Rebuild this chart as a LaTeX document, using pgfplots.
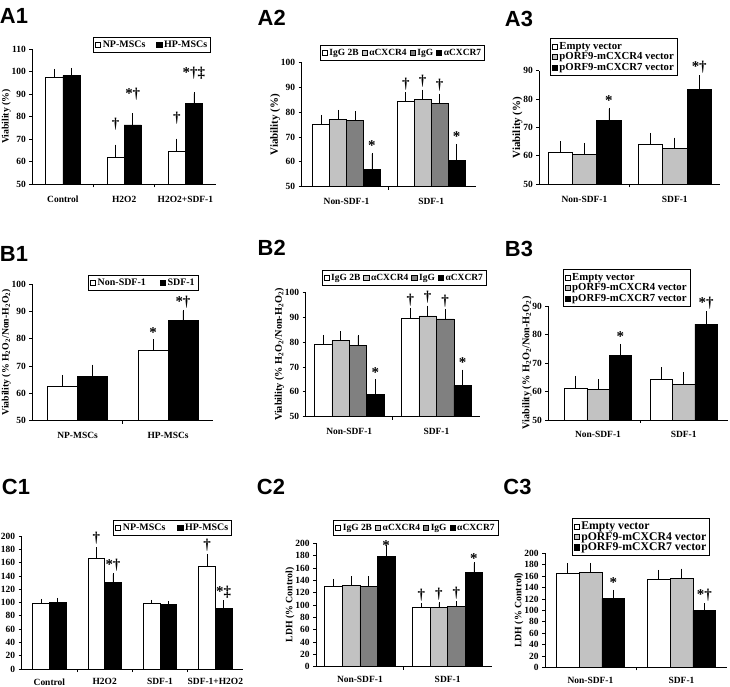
\documentclass[border=0pt]{standalone}
\usepackage{pgfplots}
\pgfplotsset{compat=1.18}
\usepackage{fontspec}
\setmainfont{Liberation Serif}
\newfontfamily\panelfont{Liberation Sans}

\definecolor{lgray}{HTML}{C2C2C2}
\definecolor{dgray}{HTML}{808080}

\newcommand{\txt}{\fontsize{9.5}{10}\selectfont\bfseries}
\newcommand{\labtxt}{\fontsize{9.8}{10}\selectfont\bfseries}
\newcommand{\bigtxt}{\fontsize{11}{11}\selectfont\bfseries}
\newcommand{\legtxt}{\fontsize{10}{11}\selectfont\bfseries}
\newcommand{\vlegtxt}{\fontsize{10.8}{11}\selectfont\bfseries}

\pgfplotsset{
  panel/.style={
    scale only axis, clip=false, anchor=south west,
    axis x line*=bottom, axis y line*=left,
    axis line style={-, line width=0.8bp},
    tick align=outside,
    major tick length=3bp, minor tick length=3bp,
    major x tick style={draw=none},
    minor x tick style={line width=0.8bp, black},
    ytick style={line width=0.8bp, black},
    /pgf/number format/assume math mode=true,
    tick label style={font=\txt},
    xticklabel style={yshift=-5bp},
    label style={font=\labtxt},
    ylabel shift=-6bp,
    legend style={draw=black, line width=0.6bp, font=\txt, inner sep=1.5bp,
      anchor=north west, cells={anchor=west}, row sep=-2bp},
    legend image code/.code={\draw[##1, draw=black, line width=0.5bp] (0bp,-2.6bp) rectangle (5.2bp,2.6bp);},
    every axis plot/.append style={ybar, bar shift=0pt, draw=black, line width=0.6bp,
      /pgfplots/error bars/y dir=plus, /pgfplots/error bars/y explicit,
      /pgfplots/error bars/error bar style={line width=0.7bp, black},
      /pgfplots/error bars/error mark options={line width=0.7bp, black, mark size=1.2bp}},
  },
  hleg/.style={legend columns=-1},
  vleg/.style={legend style={font=\vlegtxt}},
  lowlab/.style={xticklabel style={yshift=2bp}},
}
\tikzset{ann/.style={anchor=south, font=\fontsize{15}{15}\selectfont\bfseries, inner sep=0pt, yshift=3bp},
  plabel/.style={font=\panelfont\bfseries\fontsize{22}{22}\selectfont, anchor=center, inner sep=0pt}}

\begin{document}
\begin{tikzpicture}
\useasboundingbox (0,0) rectangle (730bp,687bp);

% ---------------- A1 ----------------
\node[plabel] at (14bp,671bp) {A1};
\begin{axis}[panel, at={(32.3bp,502.7bp)}, width=183.7bp, height=135.3bp,
  xmin=0.5, xmax=3.5, ymin=50, ymax=110, ytick={50,60,...,110},
  xtick={1,2,3}, xticklabels={Control,H2O2,H2O2+SDF-1}, minor xtick={1.5,2.5},
  ylabel={Viability (\%)}, hleg, legend style={at={(0.332,1.091)}, font=\legtxt,
  /tikz/every even column/.append style={column sep=9bp}}]
\addplot[fill=white, bar width=0.28] coordinates {(0.86,97.3) +- (0,3.4) (1.86,61.8) +- (0,5.3) (2.86,64.5) +- (0,5.2)};
\addplot[fill=black, bar width=0.28] coordinates {(1.14,98.2) +- (0,2.9) (2.14,76.3) +- (0,4.7) (3.14,85.8) +- (0,4.4)};
\legend{NP-MSCs,HP-MSCs}
\node[ann, yshift=12bp] at (axis cs:1.86,67.1) {†};
\node[ann, yshift=11bp] at (axis cs:2.14,81.0) {*†};
\node[ann, yshift=12bp] at (axis cs:2.86,69.7) {†};
\node[ann, yshift=11bp] at (axis cs:3.14,90.2) {*†‡};
\end{axis}

% ---------------- A2 ----------------
\node[plabel] at (271.7bp,669bp) {A2};
\begin{axis}[panel, at={(301.7bp,500.3bp)}, width=174.3bp, height=124bp,
  xmin=0.47, xmax=2.53, ymin=50, ymax=100, ytick={50,60,...,100},
  xtick={1,2}, xticklabels={Non-SDF-1,SDF-1}, minor xtick={1.5},
  ylabel={Viability (\%)}, ylabel style={font=\bigtxt},
  hleg, legend style={at={(0.105,1.143)},
  /tikz/every even column/.append style={column sep=1bp}}]
\addplot[fill=white, bar width=0.2] coordinates {(0.7,75.1) +- (0,3.4) (1.7,84.5) +- (0,3.1)};
\addplot[fill=lgray, bar width=0.2] coordinates {(0.9,77.2) +- (0,3.3) (1.9,85.2) +- (0,3.5)};
\addplot[fill=dgray, bar width=0.2] coordinates {(1.1,76.6) +- (0,3.4) (2.1,83.7) +- (0,3.3)};
\addplot[fill=black, bar width=0.2] coordinates {(1.3,57.0) +- (0,6.2) (2.3,60.5) +- (0,6.3)};
\legend{IgG 2B,αCXCR4,IgG,αCXCR7}
\node[ann] at (axis cs:1.3,63.2) {*};
\node[ann] at (axis cs:2.3,66.8) {*};
\node[ann] at (axis cs:1.7,87.6) {†};
\node[ann] at (axis cs:1.9,88.7) {†};
\node[ann] at (axis cs:2.1,87.0) {†};
\end{axis}

% ---------------- A3 ----------------
\node[plabel] at (519bp,668.5bp) {A3};
\begin{axis}[panel, at={(539.3bp,502.7bp)}, width=180.7bp, height=113.6bp,
  xmin=0.5, xmax=2.5, ymin=50, ymax=90, ytick={50,60,...,90},
  xtick={1,2}, xticklabels={Non-SDF-1,SDF-1}, minor xtick={1.5},
  ylabel={Viability (\%)}, ylabel style={font=\bigtxt},
  vleg, legend style={at={(0.059,1.285)}}]
\addplot[fill=white, bar width=0.27] coordinates {(0.73,61.1) +- (0,3.7) (1.73,64.2) +- (0,3.5)};
\addplot[fill=lgray, bar width=0.27] coordinates {(1,60.6) +- (0,3.6) (2,62.6) +- (0,3.4)};
\addplot[fill=black, bar width=0.27] coordinates {(1.27,72.4) +- (0,4.1) (2.27,83.4) +- (0,4.5)};
\legend{Empty vector,pORF9-mCXCR4 vector,pORF9-mCXCR7 vector}
\node[ann] at (axis cs:1.27,76.5) {*};
\node[ann] at (axis cs:2.27,87.9) {*†};
\end{axis}

% ---------------- B1 ----------------
\node[plabel] at (14bp,433bp) {B1};
\begin{axis}[panel, at={(32.3bp,266.3bp)}, width=181bp, height=136.7bp,
  xmin=0.5, xmax=2.5, ymin=50, ymax=100, ytick={50,60,...,100},
  xtick={1,2}, xticklabels={NP-MSCs,HP-MSCs}, minor xtick={1.5},
  ylabel={Viability (\% H\textsubscript{2}O\textsubscript{2}/Non-H\textsubscript{2}O\textsubscript{2})},
  hleg, legend style={at={(0.309,1.066)}, font=\legtxt,
  /tikz/every even column/.append style={column sep=12bp}}]
\addplot[fill=white, bar width=0.33] coordinates {(0.835,62.4) +- (0,3.9) (1.835,75.7) +- (0,3.6)};
\addplot[fill=black, bar width=0.33] coordinates {(1.165,66.3) +- (0,3.8) (2.165,86.7) +- (0,3.4)};
\legend{Non-SDF-1,SDF-1}
\node[ann] at (axis cs:1.835,79.3) {*};
\node[ann] at (axis cs:2.165,90.1) {*†};
\end{axis}

% ---------------- B2 ----------------
\node[plabel] at (271.7bp,438.7bp) {B2};
\begin{axis}[panel, at={(305.7bp,270.3bp)}, width=174.3bp, height=124.4bp,
  xmin=0.5, xmax=2.5, ymin=50, ymax=100, ytick={50,60,...,100},
  xtick={1,2}, xticklabels={Non-SDF-1,SDF-1}, minor xtick={1.5},
  ylabel={Viability (\% H\textsubscript{2}O\textsubscript{2}/Non-H\textsubscript{2}O\textsubscript{2})},
  ylabel style={font=\fontsize{10.3}{10}\selectfont\bfseries},
  hleg, legend style={at={(0.092,1.179)},
  /tikz/every even column/.append style={column sep=1bp}}]
\addplot[fill=white, bar width=0.2] coordinates {(0.7,79.2) +- (0,3.2) (1.7,89.7) +- (0,3.6)};
\addplot[fill=lgray, bar width=0.2] coordinates {(0.9,80.6) +- (0,3.3) (1.9,90.5) +- (0,3.7)};
\addplot[fill=dgray, bar width=0.2] coordinates {(1.1,78.7) +- (0,3.7) (2.1,89.3) +- (0,3.6)};
\addplot[fill=black, bar width=0.2] coordinates {(1.3,59.1) +- (0,5.4) (2.3,62.6) +- (0,5.8)};
\legend{IgG 2B,αCXCR4,IgG,αCXCR7}
\node[ann] at (axis cs:1.3,64.5) {*};
\node[ann] at (axis cs:2.3,68.4) {*};
\node[ann] at (axis cs:1.7,93.3) {†};
\node[ann] at (axis cs:1.9,94.2) {†};
\node[ann] at (axis cs:2.1,92.9) {†};
\end{axis}

% ---------------- B3 ----------------
\node[plabel] at (519bp,438.5bp) {B3};
\begin{axis}[panel, at={(548.3bp,267bp)}, width=180bp, height=114bp,
  xmin=0.42, xmax=2.52, ymin=50, ymax=90, ytick={50,60,...,90},
  xtick={1,2}, xticklabels={Non-SDF-1,SDF-1}, minor xtick={1.5},
  ylabel={Viability (\% H\textsubscript{2}O\textsubscript{2}/Non-H\textsubscript{2}O\textsubscript{2})},
  ylabel style={font=\fontsize{10.3}{10}\selectfont\bfseries},
  vleg, legend style={at={(0.08,1.322)}}]
\addplot[fill=white, bar width=0.26] coordinates {(0.74,61.2) +- (0,3.9) (1.74,64.3) +- (0,3.8)};
\addplot[fill=lgray, bar width=0.26] coordinates {(1,60.6) +- (0,3.3) (2,62.6) +- (0,3.7)};
\addplot[fill=black, bar width=0.26] coordinates {(1.26,72.6) +- (0,3.7) (2.26,83.6) +- (0,4.2)};
\legend{Empty vector,pORF9-mCXCR4 vector,pORF9-mCXCR7 vector}
\node[ann] at (axis cs:1.26,76.3) {*};
\node[ann] at (axis cs:2.26,87.8) {*†};
\end{axis}

% ---------------- C1 ----------------
\node[plabel] at (16bp,200.5bp) {C1};
\begin{axis}[panel, lowlab, at={(21.7bp,18bp)}, width=221.3bp, height=133bp,
  xmin=0.5, xmax=4.5, ymin=0, ymax=200, ytick={0,20,...,200},
  xtick={1,2,3,4}, xticklabels={Control,H2O2,SDF-1,SDF-1+H2O2}, minor xtick={1.5,2.5,3.5},
  hleg, legend style={at={(0.414,1.12)}, font=\legtxt,
  /tikz/every even column/.append style={column sep=10bp}}]
\addplot[fill=white, bar width=0.3] coordinates {(0.85,99.5) +- (0,4.0) (1.85,166.4) +- (0,15.0) (2.85,98.2) +- (0,3.8) (3.85,154.4) +- (0,17.0)};
\addplot[fill=black, bar width=0.3] coordinates {(1.15,100.5) +- (0,4.5) (2.15,129.8) +- (0,12.6) (3.15,96.7) +- (0,3.6) (4.15,90.7) +- (0,10.6)};
\legend{NP-MSCs,HP-MSCs}
\node[ann, yshift=1bp] at (axis cs:1.85,181.4) {†};
\node[ann] at (axis cs:2.15,142.4) {*†};
\node[ann, yshift=1bp] at (axis cs:3.85,171.4) {†};
\node[ann] at (axis cs:4.15,101.3) {*‡};
\end{axis}

% ---------------- C2 ----------------
\node[plabel] at (271bp,200.5bp) {C2};
\begin{axis}[panel, lowlab, at={(316bp,20.3bp)}, width=175.5bp, height=123.4bp,
  xmin=0.5, xmax=2.5, ymin=0, ymax=200, ytick={0,20,...,200},
  xtick={1,2}, xticklabels={Non-SDF-1,SDF-1}, minor xtick={1.5},
  ylabel={LDH (\% Control)},
  hleg, legend style={at={(0.099,1.189)},
  /tikz/every even column/.append style={column sep=1bp}}]
\addplot[fill=white, bar width=0.2] coordinates {(0.7,129.7) +- (0,10.8) (1.7,96.2) +- (0,5.4)};
\addplot[fill=lgray, bar width=0.2] coordinates {(0.9,131.4) +- (0,13.5) (1.9,96.2) +- (0,6.5)};
\addplot[fill=dgray, bar width=0.2] coordinates {(1.1,129.7) +- (0,14.6) (2.1,97.3) +- (0,6.5)};
\addplot[fill=black, bar width=0.2] coordinates {(1.3,178.4) +- (0,17.3) (2.3,153.0) +- (0,14.6)};
\legend{IgG 2B,αCXCR4,IgG,αCXCR7}
\node[ann, yshift=-8bp] at (axis cs:1.3,195.7) {*};
\node[ann, yshift=-3bp] at (axis cs:2.3,167.6) {*};
\node[ann] at (axis cs:1.7,101.6) {†};
\node[ann] at (axis cs:1.9,102.7) {†};
\node[ann] at (axis cs:2.1,103.8) {†};
\end{axis}

% ---------------- C3 ----------------
\node[plabel] at (517.5bp,200.5bp) {C3};
\begin{axis}[panel, lowlab, at={(545bp,19.7bp)}, width=182bp, height=114bp,
  xmin=0.5, xmax=2.5, ymin=0, ymax=200, ytick={0,20,...,200},
  xtick={1,2}, xticklabels={Non-SDF-1,SDF-1}, minor xtick={1.5},
  ylabel={LDH (\% Control)},
  legend style={at={(0.147,1.307)}, font=\fontsize{11.8}{12}\selectfont\bfseries, row sep=-3bp}]
\addplot[fill=white, bar width=0.25] coordinates {(0.75,164.9) +- (0,15.8) (1.75,153.8) +- (0,15.2)};
\addplot[fill=lgray, bar width=0.25] coordinates {(1,166.7) +- (0,14.6) (2,156.1) +- (0,14.7)};
\addplot[fill=black, bar width=0.25] coordinates {(1.25,121.0) +- (0,12.9) (2.25,100.0) +- (0,10.5)};
\legend{Empty vector,pORF9-mCXCR4 vector,pORF9-mCXCR7 vector}
\node[ann] at (axis cs:1.25,133.9) {*};
\node[ann] at (axis cs:2.25,110.5) {*†};
\end{axis}
\end{tikzpicture}
\end{document}
